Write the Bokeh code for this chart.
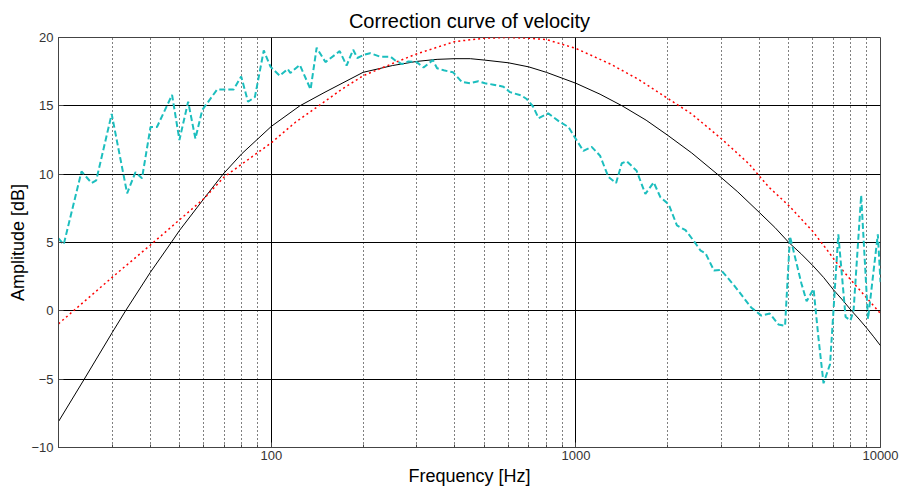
from bokeh.plotting import figure
from bokeh.models import Range1d, FixedTicker, PrintfTickFormatter
from bokeh.embed import file_html
from bokeh.resources import INLINE

# ---- data ----
meas_freq = [20, 20.8, 23.8, 25.7, 26.6, 29.9, 33.6, 35.8, 37.6, 40.1, 42.1, 47.2, 49.9,
             53.3, 56.3, 59.3, 66.4, 75.2, 79.6, 83.8, 88.3, 94.4, 99.4, 106.6, 113.1,
             115.4, 124, 134.5, 140.8, 150.5, 167.6, 176.6, 185.6, 191.5, 202.4, 211,
             227.6, 246, 254, 268, 282, 300, 316, 339, 350, 368, 395, 422, 449, 478, 503,
             536, 578, 608, 663, 689, 723, 754, 811, 888, 945, 1007, 1058, 1126, 1200,
             1278, 1355, 1414, 1468, 1582, 1690, 1800, 1895, 2016, 2146, 2290, 2440,
             2567, 2665, 2839, 2990, 3310, 3760, 4061, 4330, 4622, 4860, 5045, 5500,
             5720, 6030, 6250, 6500, 6830, 7270, 7680, 7970, 8160, 8640, 9100, 9800, 10000]
meas_db = [5.3, 4.85, 10.2, 9.35, 9.55, 14.4, 8.6, 10.15, 9.7, 13.45, 13.45, 15.8, 12.5,
           15.3, 12.6, 14.7, 16.2, 16.2, 17.15, 15.3, 15.65, 19.05, 17.85, 17.2, 17.7,
           17.4, 18.0, 16.2, 19.25, 18.2, 19.0, 17.95, 19.1, 18.5, 18.75, 18.85,
           18.6, 18.6, 18.35, 18.05, 18.25, 18.2, 17.8, 18.35, 17.75, 17.6, 17.45, 16.75, 16.65, 16.8, 16.65,
           16.55, 16.4, 16.0, 15.75, 15.5, 14.95, 14.1, 14.45, 13.8, 13.45, 12.45, 11.7, 12.0, 11.35,
           9.8, 9.35, 10.8, 10.95, 10.25, 8.55, 9.4, 8.3, 7.8, 6.25, 5.9, 5.1,
           4.4, 4.2, 2.95, 3.0, 1.85, 0.25, -0.35, -0.2, -1.0, -1.1, 5.45, 2.0,
           0.7, 1.6, -1.9, -5.3, -3.9, 5.6, -0.45, -0.7, 0.05, 8.45, -0.6, 5.6, 2.1]

fit_freq = [20, 24.3, 30, 33.2, 40, 46.9, 50, 60, 69.4, 80, 100, 124, 150, 200, 250, 300, 350,
            400, 450, 500, 600, 700, 800, 1000, 1200, 1418, 1700, 2000, 2400, 2912, 3400,
            4000, 4500, 5000, 5500, 6000, 6500, 7000, 7500, 8000, 8500, 9000, 9500, 10000]
fit_db = [-8.1, -5.0, -1.6, 0.0, 2.8, 5.0, 5.9, 8.2, 10.0, 11.5, 13.5, 15.0, 16.0, 17.45, 17.95,
          18.25, 18.4, 18.45, 18.45, 18.35, 18.15, 17.85, 17.45, 16.65, 15.85, 15.0, 13.95,
          12.85, 11.55, 10.0, 8.7, 7.2, 6.1, 5.0, 4.15, 3.3, 2.45, 1.55, 0.8, 0.05, -0.6,
          -1.25, -1.9, -2.55]

ref_freq = [20, 22.4, 30, 40, 60, 70, 100, 120, 143, 170, 200, 250, 300, 400, 500, 600, 700, 800,
            1000, 1300, 1600, 2000, 2400, 3000, 3700, 4300, 5000, 6000, 6600, 7300, 8000, 9000, 10000]
ref_db = [-0.95, 0.0, 2.45, 4.8, 8.2, 9.8, 12.3, 13.8, 15.0, 16.2, 17.2, 18.1, 18.8, 19.7, 19.95, 20.0,
          19.95, 19.85, 19.2, 18.05, 16.95, 15.55, 14.4, 12.6, 10.75, 9.05, 7.7, 5.8, 4.6, 3.3, 2.25, 0.95, -0.2]

x_major = [100, 1000, 10000]
x_minor = [20, 30, 40, 50, 60, 70, 80, 90, 200, 300, 400, 500, 600, 700, 800, 900,
           2000, 3000, 4000, 5000, 6000, 7000, 8000, 9000]
y_ticks = [-10, -5, 0, 5, 10, 15, 20]

FONT = "Liberation Sans"

p = figure(width=902, height=491, x_axis_type="log", output_backend="svg",
           toolbar_location=None, title="Correction curve of velocity",
           x_range=Range1d(20, 10000), y_range=Range1d(-10, 20),
           min_border_left=58, min_border_right=22, min_border_top=37, min_border_bottom=44)
p.background_fill_color = "white"
p.border_fill_color = "white"
p.outline_line_color = "#444444"
p.outline_line_width = 1

p.title.align = "center"
p.title.text_font = FONT
p.title.text_font_style = "normal"
p.title.text_font_size = "20px"
p.title.text_color = "black"
p.title.standoff = 12

p.xaxis.ticker = FixedTicker(ticks=x_major, minor_ticks=x_minor)
p.xaxis.formatter = PrintfTickFormatter(format="%d")
p.yaxis.ticker = FixedTicker(ticks=y_ticks)

for ax in (p.xaxis[0], p.yaxis[0]):
    ax.major_tick_in = 5
    ax.major_tick_out = 0
    ax.minor_tick_in = 3
    ax.minor_tick_out = 0
    ax.axis_line_color = "#444444"
    ax.major_tick_line_color = "#444444"
    ax.minor_tick_line_color = "#444444"
    ax.major_label_text_font = FONT
    ax.major_label_text_font_size = "13px"
    ax.major_label_text_color = "#333333"
    ax.axis_label_text_font = FONT
    ax.axis_label_text_font_size = "18px"
    ax.axis_label_text_font_style = "normal"
    ax.axis_label_text_color = "black"
p.yaxis.minor_tick_line_color = None
p.xaxis.axis_label = "Frequency [Hz]"
p.yaxis.axis_label = "Amplitude [dB]"
p.xaxis.major_label_standoff = 3
p.xaxis.axis_label_standoff = 3
p.yaxis.major_label_standoff = 5
p.yaxis.axis_label_standoff = 0

p.xgrid.grid_line_color = "black"
p.xgrid.grid_line_width = 1
p.xgrid.minor_grid_line_color = "black"
p.xgrid.minor_grid_line_dash = "1 3"
p.xgrid.minor_grid_line_width = 1
p.ygrid.grid_line_color = "black"
p.ygrid.grid_line_width = 1

p.line(fit_freq, fit_db, line_color="black", line_width=1)
p.line(ref_freq, ref_db, line_color="red", line_width=1.5, line_dash="2 3")
p.line(meas_freq, meas_db, line_color="#1CBEBE", line_width=2, line_dash="6 3")

open("out.html", "w").write(file_html(p, INLINE))
